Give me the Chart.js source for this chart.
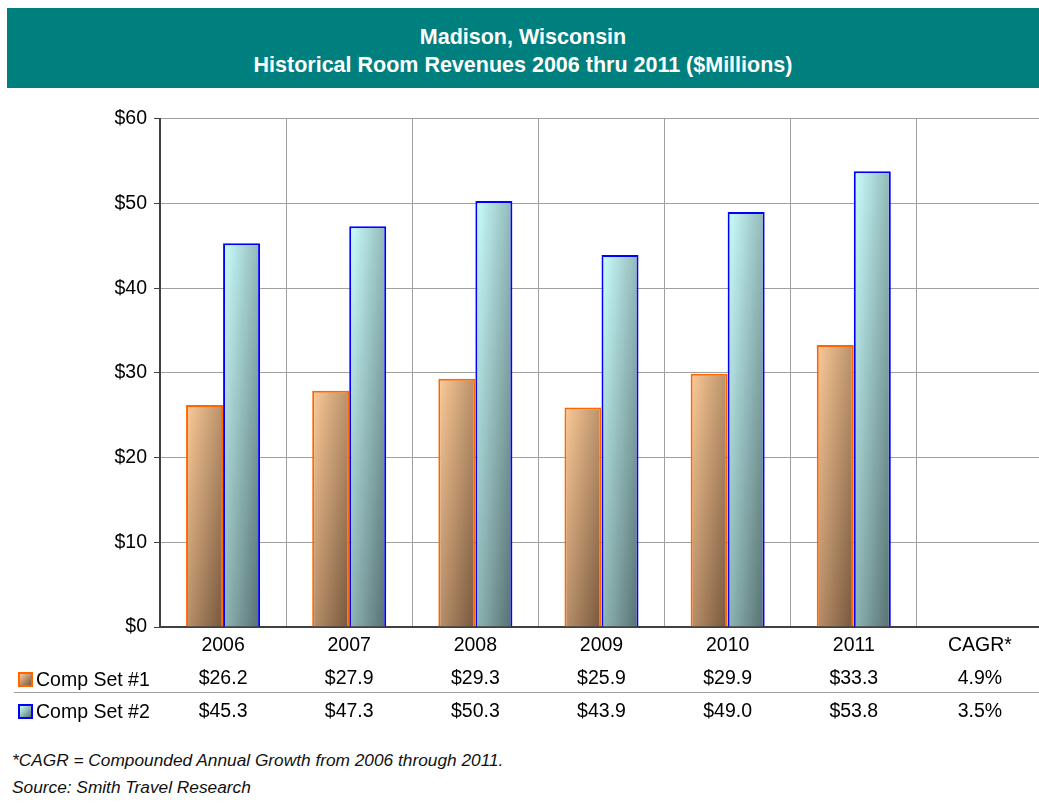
<!DOCTYPE html>
<html>
<head>
<meta charset="utf-8">
<script src="https://cdn.jsdelivr.net/npm/chart.js@4"></script>
<style>
  html, body { margin: 0; padding: 0; background: #fff; overflow: hidden; width: 1039px; height: 808px; }
  body { position: relative; font-family: "Liberation Sans", Arial, sans-serif; color: #000; }
  #banner {
    position: absolute; left: 7px; top: 8px; width: 1040px; height: 80px;
    background: #007f7f; color: #fff; font-weight: bold; font-size: 21.5px;
    text-align: center; box-sizing: border-box; padding-top: 15px; line-height: 28px;
  }
  #banner div { position: relative; left: -4px; }
  #wrap { position: absolute; left: 0; top: 100px; width: 1043px; height: 640px; }
  .key { position: absolute; left: 18px; font-size: 19.5px; height: 22px; line-height: 22px; white-space: nowrap; }
  .key span {
    display: inline-block; width: 11px; height: 11px; vertical-align: -1px; margin-right: 3px;
  }
  #key1 { top: 668px; }
  #key2 { top: 700px; }
  #key1 span { border: 2px solid #ff6600; background: linear-gradient(135deg, #fbc996, #7a5a3e); }
  #key2 span { border: 2px solid #0000ff; background: linear-gradient(135deg, #ccffff, #5a7474); }
  #rule { position: absolute; left: 14px; top: 692px; width: 1030px; height: 1px; background: #a0a0a0; }
  .note { position: absolute; left: 12px; font-size: 17.3px; font-style: italic; color: #111; }
  #note1 { top: 750px; }
  #note2 { top: 777px; }
</style>
</head>
<body>
<div id="banner">
  <div>Madison, Wisconsin</div>
  <div>Historical Room Revenues 2006 thru 2011 ($Millions)</div>
</div>
<div id="wrap"><canvas id="chart" width="1043" height="640"></canvas></div>
<div class="key" id="key1"><span></span>Comp Set #1</div>
<div class="key" id="key2"><span></span>Comp Set #2</div>
<div id="rule"></div>
<div class="note" id="note1">*CAGR = Compounded Annual Growth from 2006 through 2011.</div>
<div class="note" id="note2">Source: Smith Travel Research</div>

<script>
// Room revenues in $ millions
const years = ['2006', '2007', '2008', '2009', '2010', '2011'];
const compSet1 = [26.2, 27.9, 29.3, 25.9, 29.9, 33.3];
const compSet2 = [45.3, 47.3, 50.3, 43.9, 49.0, 53.8];
const cagr1 = '4.9%';
const cagr2 = '3.5%';

const categories = [...years, 'CAGR*'];
const yTicks = [0, 10, 20, 30, 40, 50, 60];

const CAT_PCT = 0.587;
const FONT = '"Liberation Sans", Arial, sans-serif';

// diagonal shade across each bar: light top-left, dark bottom-right
function barShade(light, dark) {
  return (ctx) => {
    const chart = ctx.chart;
    const area = chart.chartArea;
    if (!area || ctx.type !== 'data' || ctx.raw == null) return light;
    const xs = chart.scales.x, ys = chart.scales.y;
    const w = xs.width / categories.length * CAT_PCT / 2;
    const center = xs.getPixelForValue(ctx.dataIndex);
    const left = ctx.datasetIndex === 0 ? center - w : center;
    const top = ys.getPixelForValue(ctx.raw);
    const h = Math.max(area.bottom - top, 1);
    const g = chart.ctx.createLinearGradient(left, top, left + 2 * w, top + 2 * w * w / h);
    g.addColorStop(0, light);
    g.addColorStop(1, dark);
    return g;
  };
}

const money = v => '$' + v.toFixed(1);

new Chart(document.getElementById('chart'), {
  type: 'bar',
  data: {
    labels: categories,
    datasets: [
      {
        label: 'Comp Set #1',
        data: [...compSet1, null],
        backgroundColor: barShade('#fccb98', '#73533a'),
        borderColor: '#ff6600',
        borderWidth: 2,
        borderSkipped: 'bottom'
      },
      {
        label: 'Comp Set #2',
        data: [...compSet2, null],
        backgroundColor: barShade('#ccffff', '#546e6e'),
        borderColor: '#0000ff',
        borderWidth: 2,
        borderSkipped: 'bottom'
      }
    ]
  },
  options: {
    responsive: false,
    animation: false,
    layout: { padding: { top: 17, right: 0, bottom: 0, left: 0 } },
    datasets: { bar: { categoryPercentage: CAT_PCT, barPercentage: 1 } },
    plugins: { legend: { display: false }, tooltip: { enabled: false } },
    scales: {
      x: {
        afterFit: s => { s.height = 113; },
        grid: { color: '#a0a0a0', lineWidth: 1, drawTicks: false, offset: true },
        border: { color: '#404040', width: 2 },
        ticks: {
          color: '#000',
          padding: 2,
          font: { family: FONT, size: 19.5, lineHeight: 1.69 },
          callback: (v, i) => i < years.length
            ? [categories[i], money(compSet1[i]), money(compSet2[i])]
            : [categories[i], cagr1, cagr2]
        }
      },
      y: {
        min: 0,
        max: 60,
        afterFit: s => { s.width = 160; },
        afterBuildTicks: s => { s.ticks = yTicks.map(v => ({ value: v })); },
        grid: { color: '#a0a0a0', lineWidth: 1, tickLength: 6, tickColor: '#404040' },
        border: { color: '#404040', width: 2 },
        ticks: {
          color: '#000',
          padding: 7,
          font: { family: FONT, size: 19.5 },
          callback: v => '$' + v
        }
      }
    }
  }
});
</script>
</body>
</html>
